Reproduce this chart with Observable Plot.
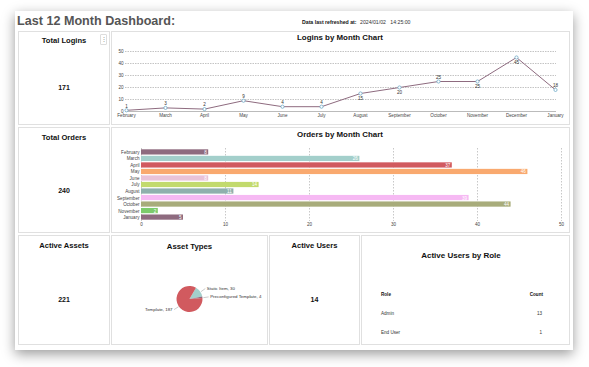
<!DOCTYPE html>
<html><head><meta charset="utf-8">
<script src="https://cdn.jsdelivr.net/npm/d3@7"></script>
<script src="https://cdn.jsdelivr.net/npm/@observablehq/plot@0.6"></script>
<style>
body{margin:0;width:589px;height:367px;background:#fff;font-family:"Liberation Sans",Arial,sans-serif;position:relative;overflow:hidden}
#card{position:absolute;left:15px;top:11px;width:558px;height:339px;background:#fff;box-shadow:0 4px 12px rgba(0,0,0,0.4)}
.panel{position:absolute;box-sizing:border-box;border:1px solid #e0e0e0;background:#fff}
.t{position:absolute;white-space:pre;line-height:10px;height:10px}
.c{text-align:center}
.b{font-weight:bold}
.abs{position:absolute}
</style></head><body>
<div id="card"></div>
<div id="root"></div>
<script>
// ---------- data ----------
const dashboardTitle = "Last 12 Month Dashboard:";
const refreshedLabel = "Data last refreshed at:";
const refreshedDate = "2024/01/02";
const refreshedTime = "14:25:00";

const months = ["February","March","April","May","June","July","August","September","October","November","December","January"];
const logins = [1,3,2,9,4,4,15,20,25,25,45,18];
const loginLabelSide = ["above","above","above","above","above","above","below","below","above","below","below","above"];
const loginTicks = [0,10,20,30,40,50];

const orderMonths = ["February","March","April","May","June","July","August","September","October","November","January"];
const orders = [8,26,37,46,8,14,11,39,44,2,5];
const orderColors = ["#8e6b7f","#a3cfcb","#d15a5f","#f9a96f","#e9c3d9","#c2da6d","#8fb0ad","#f6b9f3","#a8ac7b","#7ccb6b","#8e6b7f"];
const orderTicks = [0,10,20,30,40,50];

const assetTypes = ["Static Item","Preconfigured Template","Template"];
const assetCounts = [30,4,187];
const assetColors = ["#a3cfcb","#8e6b7f","#d15a5f"];

const roles = ["Admin","End User"];
const roleCounts = [13,1];

// ---------- layout helpers ----------
const root = document.getElementById("root");
const fontFamily = '"Liberation Sans", Arial, sans-serif';
function panel(x,y,w,h){const d=document.createElement("div");d.className="panel";Object.assign(d.style,{left:x+"px",top:y+"px",width:w+"px",height:h+"px"});root.appendChild(d);return d;}
function text(str,x,y,opts={}){const d=document.createElement("div");d.className="t"+(opts.bold?" b":"")+(opts.center?" c":"");d.textContent=str;
  const s={top:(y-5)+"px",fontSize:(opts.size||7)+"px",color:opts.color||"#111"};
  if(opts.center){s.left=(x-100)+"px";s.width="200px";}else if(opts.right){s.left=(x-200)+"px";s.width="200px";s.textAlign="right";}else{s.left=x+"px";}
  Object.assign(d.style,s);root.appendChild(d);return d;}
function place(node,x,y){const d=document.createElement("div");d.className="abs";d.style.left=x+"px";d.style.top=y+"px";d.appendChild(node);root.appendChild(d);}

// header
text(dashboardTitle,17,20.5,{bold:true,size:12.6,color:"#555"});
text(refreshedLabel,302,21.5,{bold:true,size:5.2});
text(refreshedDate+"   "+refreshedTime,360,21.5,{size:5.2,color:"#333"});

// panels
panel(18,31,92,94); panel(111,31,459,94);
panel(18,127,92,106); panel(111,127,459,106);
panel(18,235,92,110); panel(111,235,157,110); panel(269,235,91,110); panel(361,235,209,110);

// menu box
const menu=document.createElement("div");
Object.assign(menu.style,{position:"absolute",left:"100px",top:"34px",width:"7px",height:"11px",boxSizing:"border-box",border:"1px solid #ddd",borderRadius:"1px",fontSize:"6px",lineHeight:"9px",textAlign:"center",color:"#888"});
menu.textContent="⋮";root.appendChild(menu);

// KPI tiles
text("Total Logins",64,40.5,{bold:true,size:7.6,center:true});
text(String(d3.sum(logins)),64,88,{bold:true,size:7,center:true});
text("Total Orders",64,138,{bold:true,size:7.6,center:true});
text(String(d3.sum(orders)),64,191,{bold:true,size:7,center:true});
text("Active Assets",64,246,{bold:true,size:7.6,center:true});
text(String(d3.sum(assetCounts)),64,299.5,{bold:true,size:7,center:true});
text("Active Users",314.5,246,{bold:true,size:7.6,center:true});
text(String(d3.sum(roleCounts)),314.5,299.5,{bold:true,size:7,center:true});

// chart titles
text("Logins by Month Chart",340,37.5,{bold:true,size:7.9,center:true});
text("Orders by Month Chart",340,135,{bold:true,size:7.9,center:true});
text("Asset Types",189.5,246.5,{bold:true,size:7.8,center:true});
text("Active Users by Role",461,256,{bold:true,size:8,center:true});

// ---------- line chart ----------
const lineData = months.map((m,i)=>({month:m,logins:logins[i],side:loginLabelSide[i]}));
const linePlot = Plot.plot({
  width:459, height:94, marginLeft:14, marginRight:14, marginTop:20, marginBottom:14,
  style:{fontFamily, fontSize:"4.6px", color:"#444", background:"transparent", overflow:"visible"},
  x:{type:"point", domain:months, padding:0},
  y:{domain:[0,50]},
  marks:[
    Plot.gridY(loginTicks.filter(t=>t>0),{stroke:"#c4c4c4",strokeOpacity:1,strokeDasharray:"1.5,1"}),
    Plot.ruleY([0],{stroke:"#aaa",strokeWidth:0.8}),
    Plot.axisY({ticks:loginTicks,tickSize:0,tickPadding:2,label:null}),
    Plot.axisX({tickSize:0,tickPadding:2.5,label:null}),
    Plot.line(lineData,{x:"month",y:"logins",stroke:"#8e6b7f",strokeWidth:1}),
    Plot.dot(lineData,{x:"month",y:"logins",r:1.6,fill:"white",stroke:"#6ea9c6",strokeWidth:0.8}),
    Plot.text(lineData.filter(d=>d.side==="above"),{x:"month",y:"logins",text:"logins",dy:-4.2,fill:"#333"}),
    Plot.text(lineData.filter(d=>d.side==="below"),{x:"month",y:"logins",text:"logins",dy:4.6,fill:"#333"})
  ]
});
place(linePlot,111,31);

// ---------- bar chart ----------
const barData = orderMonths.map((m,i)=>({month:m,orders:orders[i],color:orderColors[i]}));
const barPlot = Plot.plot({
  width:459, height:106, marginLeft:30, marginRight:9, marginTop:21, marginBottom:12,
  style:{fontFamily, fontSize:"4.6px", color:"#444", background:"transparent", overflow:"visible"},
  x:{domain:[0,50]},
  y:{domain:orderMonths, padding:0.2, round:false},
  color:{type:"identity"},
  marks:[
    Plot.gridX(orderTicks,{stroke:"#c8c8c8",strokeOpacity:1,strokeDasharray:"1.5,1.5"}),
    Plot.barX(barData,{y:"month",x:"orders",fill:"color"}),
    Plot.text(barData,{y:"month",x:"orders",text:"orders",textAnchor:"end",dx:-2,fill:"white"}),
    Plot.axisY({tickSize:0,tickPadding:2,label:null}),
    Plot.axisX({ticks:orderTicks,tickSize:0,tickPadding:1.5,label:null})
  ]
});
place(barPlot,111,127);

// ---------- pie chart ----------
const pieStartAngle = Math.PI/6, pieR = 13;
const pieData = assetTypes.map((t,i)=>({type:t,count:assetCounts[i],color:assetColors[i]}));
const arcs = d3.pie().value(d=>d.count).sort(null).startAngle(pieStartAngle).endAngle(pieStartAngle+2*Math.PI)(pieData);
const labels = arcs.map(a=>{const m=(a.startAngle+a.endAngle)/2, sx=Math.sin(m), sy=-Math.cos(m);
  return {x1:sx*(pieR+0.5),y1:sy*(pieR+0.5),x2:sx*pieR*1.45,y2:sy*pieR*1.45,tx:sx*pieR*1.45+(sx>0?1.5:-1.5),ty:sy*pieR*1.45,anchor:sx>0?"start":"end",label:a.data.type+", "+a.data.count};});
const piePlot = Plot.plot({
  width:157, height:109, margin:0,
  style:{fontFamily, fontSize:"4.4px", color:"#333", background:"transparent", overflow:"visible"},
  x:{domain:[-78.5,78.5], range:[0,157], axis:null},
  y:{domain:[-64,45], range:[0,109], axis:null},
  marks:[
    (index, scales) => {
      const cx = scales && scales.x ? scales.x(0) : 78.5, cy = scales && scales.y ? scales.y(0) : 64;
      const g = d3.create("svg:g").attr("transform",`translate(${cx},${cy})`);
      const arc = d3.arc().innerRadius(0).outerRadius(pieR);
      g.selectAll("path").data(arcs).join("path").attr("d",arc).attr("fill",d=>d.data.color);
      return g.node();
    },
    Plot.link(labels,{x1:"x1",y1:"y1",x2:"x2",y2:"y2",stroke:"#999",strokeWidth:0.5}),
    Plot.text(labels.filter(d=>d.anchor==="start"),{x:"tx",y:"ty",text:"label",textAnchor:"start",fill:"#333"}),
    Plot.text(labels.filter(d=>d.anchor==="end"),{x:"tx",y:"ty",text:"label",textAnchor:"end",fill:"#333"})
  ]
});
place(piePlot,111,235);

// ---------- role table ----------
text("Role",381,294.5,{bold:true,size:4.6});
text("Count",543,294.5,{bold:true,size:4.6,right:true});
roles.forEach((r,i)=>{
  text(r,381,313.5+i*19,{size:4.6,color:"#333"});
  text(String(roleCounts[i]),542,313.5+i*19,{size:4.6,color:"#333",right:true});
});
</script>
</body></html>
